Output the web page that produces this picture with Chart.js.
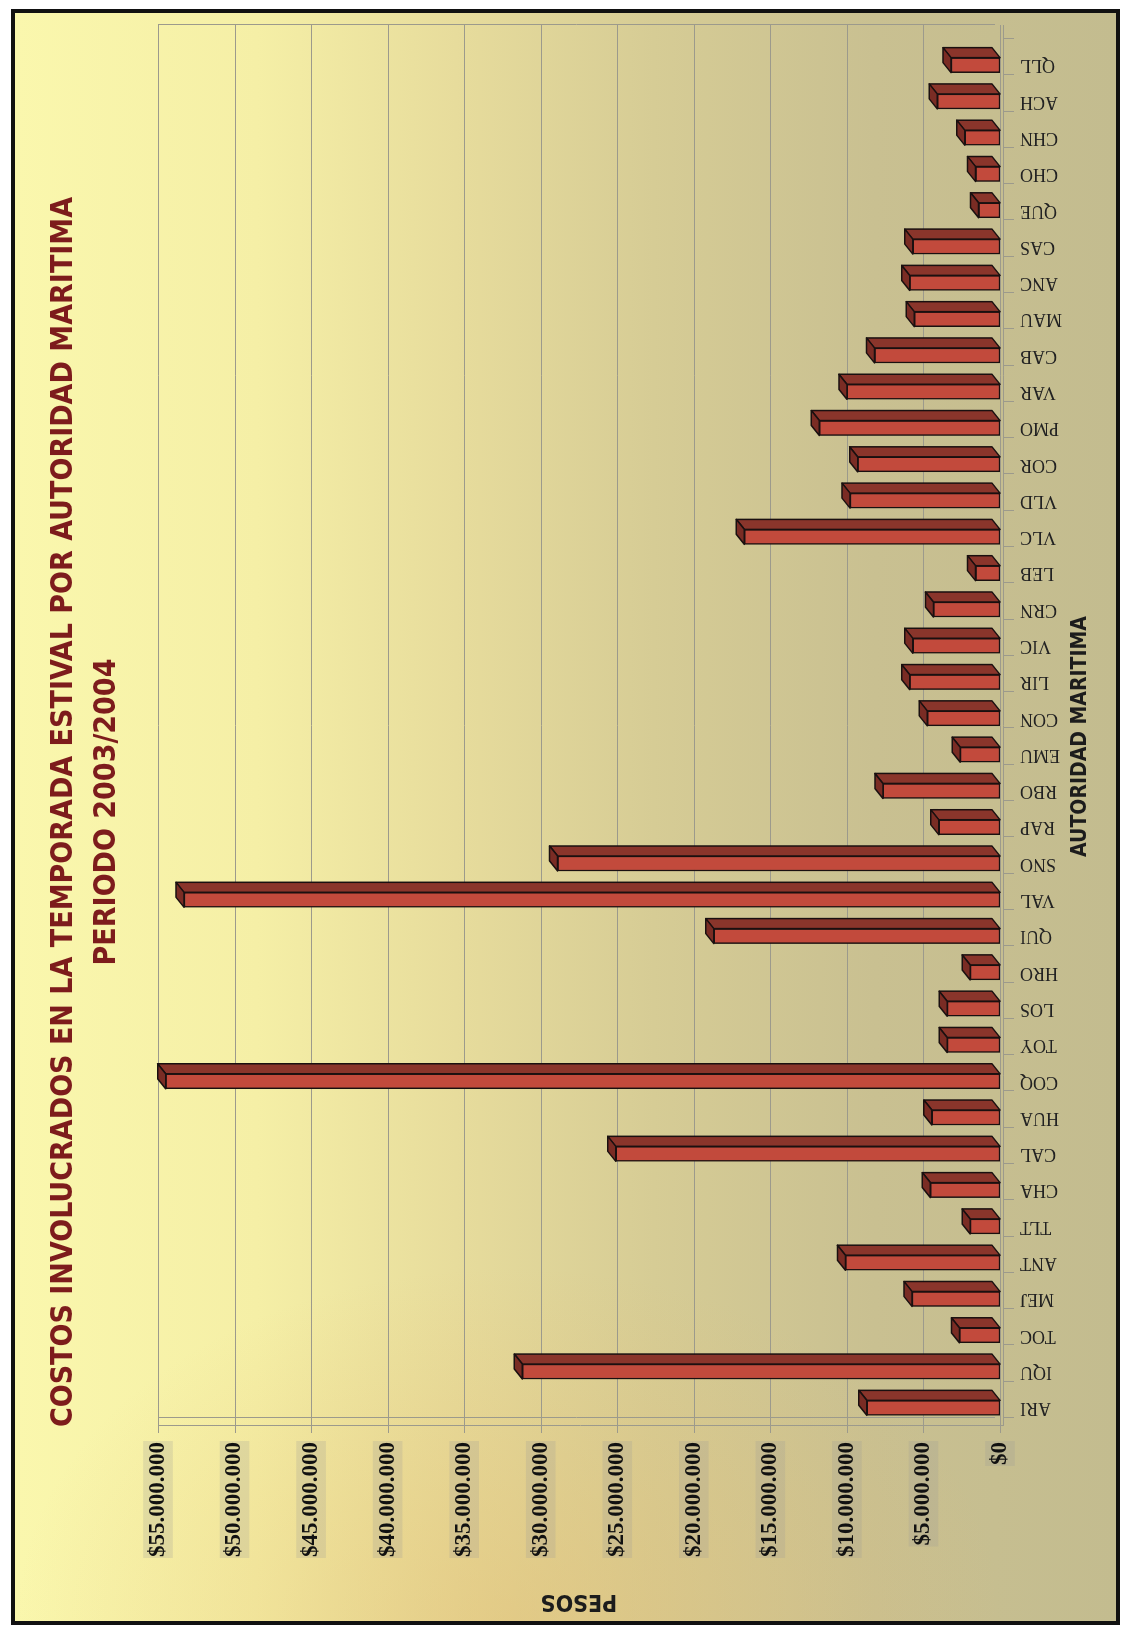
<!DOCTYPE html>
<html>
<head>
<meta charset="utf-8">
<script src="https://cdn.jsdelivr.net/npm/chart.js@4.4.1/dist/chart.umd.min.js"></script>
<style>
  html, body { margin: 0; padding: 0; background: #fff; width: 1126px; height: 1637px; overflow: hidden; }
  #frame {
    position: absolute; left: 11px; top: 9px; width: 1109px; height: 1616px;
    box-sizing: border-box; border: 4px solid #111;
    background:
      radial-gradient(ellipse 45% 22% at 45% 100%, rgba(226, 186, 110, 0.45), rgba(226, 186, 110, 0) 100%),
      linear-gradient(to right, #faf7ad 0%, #f5efa6 22%, #e7dc9c 40%, #d6cc95 58%, #c9c091 78%, #c3bc8f 100%);
  }
  #rot {
    position: absolute; left: 0; top: 0; width: 1637px; height: 1126px;
    transform-origin: 0 0; transform: translateY(1637px) rotate(-90deg);
  }
</style>
</head>
<body>
<div id="frame"></div>
<div id="rot"><canvas id="chart" width="1637" height="1126"></canvas></div>
<script>
const categories = ["ARI", "IQU", "TOC", "MEJ", "ANT", "TLT", "CHA", "CAL", "HUA", "COQ",
  "TOY", "LOS", "HRO", "QUI", "VAL", "SNO", "RAP", "RBO", "EMU", "CON",
  "LIR", "VIC", "CRN", "LEB", "VLC", "VLD", "COR", "PMO", "VAR", "CAB",
  "MAU", "ANC", "CAS", "QUE", "CHO", "CHN", "ACH", "QLL"];

// costo en pesos por autoridad maritima
const costos = [8700000, 31200000, 2650000, 5750000, 10100000, 1950000, 4550000, 25100000, 4450000, 54500000,
  3450000, 3450000, 1950000, 18700000, 53300000, 28900000, 4000000, 7650000, 2600000, 4750000,
  5900000, 5700000, 4350000, 1600000, 16700000, 9800000, 9300000, 11800000, 10000000, 8200000,
  5600000, 5900000, 5700000, 1400000, 1600000, 2300000, 4100000, 3200000];

const yMin = 0;
const yMax = 55000000;
const yStep = 5000000;

const titleLines = ["COSTOS INVOLUCRADOS EN LA TEMPORADA ESTIVAL POR AUTORIDAD MARITIMA", "PERIODO 2003/2004"];
const xTitle = "AUTORIDAD MARITIMA";
const yTitle = "PESOS";

const narrow = "'Liberation Sans Narrow', 'DejaVu Sans Condensed', 'Arial Narrow', sans-serif";
const serif = "'Liberation Serif', 'DejaVu Serif', serif";

function pesos(v) {
  return "$" + String(v).replace(/\B(?=(\d{3})+(?!\d))/g, ".");
}

const dx = 10, dy = 8;

// back wall, floor and axis lines of the 3D look
const wallPlugin = {
  id: "wall",
  beforeDatasetsDraw(chart) {
    const { ctx, chartArea: a, scales } = chart;
    const ys = scales.y, xs = scales.x;
    ctx.save();
    ctx.strokeStyle = "#9c9a8c";
    ctx.lineWidth = 1;
    ys.ticks.forEach((t) => {
      const py = Math.round(ys.getPixelForValue(t.value)) + 0.5;
      ctx.beginPath();
      ctx.moveTo(a.left, py);
      ctx.lineTo(a.right + 22, py);
      ctx.stroke();
      ctx.beginPath();
      ctx.moveTo(a.left, py);
      ctx.lineTo(a.left - 7, py);
      ctx.stroke();
    });
    ctx.beginPath();
    ctx.moveTo(a.left + 0.5, a.top);
    ctx.lineTo(a.left + 0.5, a.bottom + 3);
    ctx.moveTo(a.left + 8.5, a.top);
    ctx.lineTo(a.left + 8.5, a.bottom - 5);
    ctx.moveTo(a.right + 22.5, a.top);
    ctx.lineTo(a.right + 22.5, a.bottom - 5);
    ctx.moveTo(a.left, a.bottom + 3.5);
    ctx.lineTo(a.right + 22, a.bottom + 3.5);
    ctx.stroke();
    const step = (xs.getPixelForValue(1) - xs.getPixelForValue(0));
    for (let i = 0; i <= categories.length; i++) {
      const px = Math.round(xs.getPixelForValue(i) - step / 2) + 0.5;
      ctx.beginPath();
      ctx.moveTo(px + 8, a.bottom + 3);
      ctx.lineTo(px + 8, a.bottom + 14);
      ctx.stroke();
    }
    ctx.restore();
  }
};

// side and top faces of each column
const depthPlugin = {
  id: "depth",
  afterDatasetsDraw(chart) {
    const ctx = chart.ctx;
    const meta = chart.getDatasetMeta(0);
    ctx.save();
    ctx.strokeStyle = "#1a1010";
    ctx.lineWidth = 1.5;
    ctx.lineJoin = "round";
    meta.data.forEach((bar) => {
      const { x, y, base, width } = bar.getProps(["x", "y", "base", "width"], true);
      const l = x - width / 2, r = x + width / 2;
      ctx.fillStyle = "#8a352b";
      ctx.beginPath();
      ctx.moveTo(r, y);
      ctx.lineTo(r + dx, y - dy);
      ctx.lineTo(r + dx, base - dy);
      ctx.lineTo(r, base);
      ctx.closePath();
      ctx.fill();
      ctx.stroke();
      ctx.fillStyle = "#7a2c24";
      ctx.beginPath();
      ctx.moveTo(l, y);
      ctx.lineTo(l + dx, y - dy);
      ctx.lineTo(r + dx, y - dy);
      ctx.lineTo(r, y);
      ctx.closePath();
      ctx.fill();
      ctx.stroke();
    });
    ctx.restore();
  }
};

new Chart(document.getElementById("chart"), {
  type: "bar",
  data: {
    labels: categories,
    datasets: [{
      data: costos,
      backgroundColor: "#c24a3c",
      borderColor: "#1a1010",
      borderWidth: 1.5,
      borderSkipped: false,
      barThickness: 15
    }]
  },
  options: {
    responsive: false,
    animation: false,
    devicePixelRatio: 1,
    layout: { padding: { left: 60, right: 47, top: 0, bottom: 0 } },
    plugins: {
      legend: { display: false },
      tooltip: { enabled: false },
      title: {
        display: true,
        text: titleLines,
        color: "#7d1c1c",
        font: { family: narrow, weight: "bold", size: 30, lineHeight: 43 / 30 },
        padding: { top: 43, bottom: 29 }
      }
    },
    scales: {
      x: {
        grid: { display: false, drawTicks: false, tickLength: 0 },
        border: { display: false },
        ticks: {
          autoSkip: false,
          minRotation: 90,
          maxRotation: 90,
          padding: 20,
          color: "#222",
          font: { family: serif, size: 18 }
        },
        title: {
          display: true,
          text: xTitle,
          color: "#1c1c1c",
          font: { family: narrow, weight: "bold", size: 21, lineHeight: 1.2 },
          padding: { top: 0, bottom: 33 }
        },
        afterFit(s) { s.height = 126; }
      },
      y: {
        min: yMin,
        max: yMax,
        grid: { display: false, drawTicks: false, tickLength: 0 },
        border: { display: false },
        ticks: {
          stepSize: yStep,
          padding: 16,
          color: "#111",
          font: { family: serif, weight: "bold", size: 23 },
          showLabelBackdrop: true,
          backdropColor: "rgba(150, 150, 150, 0.22)",
          backdropPadding: 1,
          callback: (v) => pesos(v)
        },
        title: {
          display: true,
          text: yTitle,
          color: "#1c1c1c",
          font: { family: narrow, weight: "bold", size: 23, lineHeight: 1.2 },
          padding: { top: -38, bottom: 0 }
        },
        afterFit(s) { s.width = 151; }
      }
    }
  },
  plugins: [wallPlugin, depthPlugin]
});
</script>
</body>
</html>
